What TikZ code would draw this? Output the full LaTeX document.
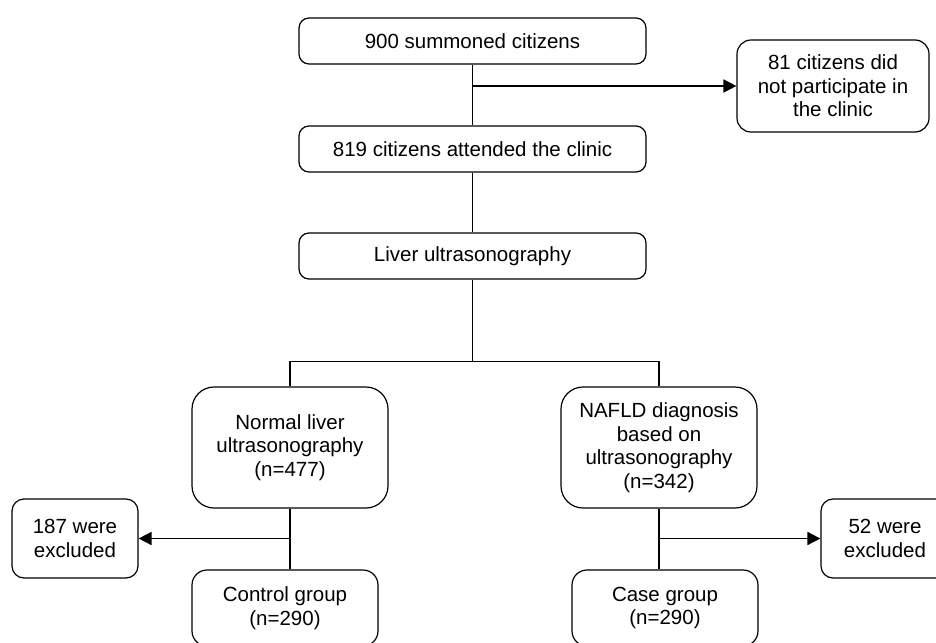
\documentclass[tikz,border=0pt]{standalone}
\usepackage{fontspec}
\setmainfont{Liberation Sans}
\usepackage{tikz}
\usetikzlibrary{positioning,arrows.meta}
\usepackage{xcolor}

\begin{document}
\begin{tikzpicture}[x=1pt,y=-1pt,
    box/.style={thick,draw,rounded corners=#1,align=center,inner sep=2pt,font=\fontsize{20.5}{23.5}\selectfont,line width=1.2pt},
    box/.default=10pt,
    link/.style={line width=1.2pt},
    arrow/.style={line width=1.6pt,-{Triangle[length=13pt,width=13pt]}}]
        \useasboundingbox (0,0) rectangle (936,642);
        \node[box, minimum width=347, minimum height=46] (sum) at (472.5, 41) {900 summoned citizens};
        \node[box, minimum width=347, minimum height=46] (att) at (472.5, 149) {819 citizens attended the clinic};
        \node[box, minimum width=347, minimum height=46] (us) at (472.5, 256) {Liver ultrasonography};
        \node[box=14pt, minimum width=192, minimum height=92] (np) at (833, 86) {81 citizens did\\not participate in\\the clinic};

        \node[box=22pt, minimum width=196, minimum height=121] (nl) at (290, 447.5) {Normal liver\\ultrasonography\\(n=477)};
        \node[box=22pt, minimum width=196, minimum height=121] (nd) at (659, 447.5) {NAFLD diagnosis\\based on\\ultrasonography\\(n=342)};

        \node[box=12pt, minimum width=126, minimum height=79] (ex1) at (75, 538.5) {187 were\\excluded};
        \node[box=12pt, minimum width=128, minimum height=79] (ex2) at (885, 538.5) {52 were\\excluded};

        \node[box=15pt, minimum width=186, minimum height=76] (ctl) at (285, 608) {Control group\\(n=290)};
        \node[box=15pt, minimum width=186, minimum height=76] (cas) at (665, 608) {Case group\\(n=290)};

        \draw[link] (sum) -- (att);
        \draw[arrow] (sum.south |- np.west) -- (np.west);
        \draw[link] (att) -- (us);
        \draw[link] (us.south) -- ++(0,82) coordinate (split);
        \draw[link] (nl.north) |- (split) -| (nd.north);

        \draw[link] (nl.south) -- (nl.south |- ctl.north);
        \draw[arrow] (nl.south |- ex1.east) -- (ex1.east);
        \draw[link] (nd.south) -- (nd.south |- cas.north);
        \draw[arrow] (nd.south |- ex2.west) -- (ex2.west);
    \end{tikzpicture}
\end{document}
